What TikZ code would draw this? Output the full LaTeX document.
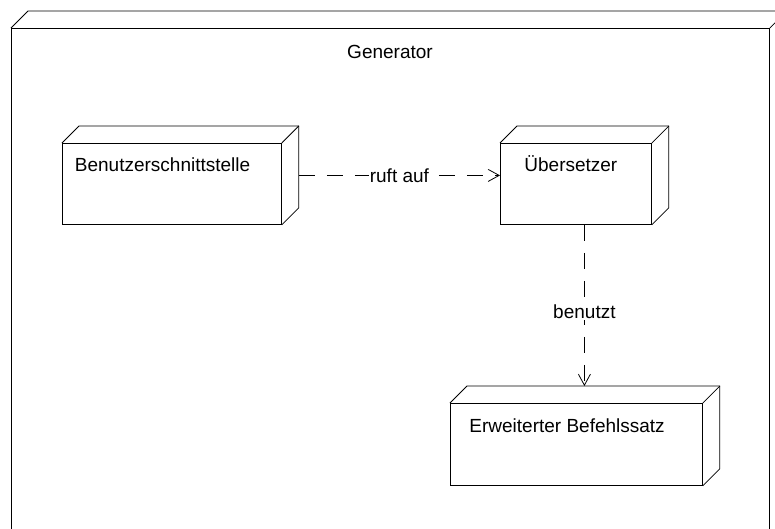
\documentclass[tikz,border=0pt]{standalone}
\usepackage{fontspec}
\setmainfont{Liberation Sans}
\usetikzlibrary{arrows.meta}
\begin{document}
\begin{tikzpicture}[x=1pt,y=-1pt,line width=0.8pt,
    box/.style={draw,rectangle,anchor=north west,inner sep=0pt},
    lbl/.style={font=\fontsize{19}{22}\selectfont,inner sep=0pt},
    dep/.style={draw,dash pattern=on 16pt off 12pt,-{Straight Barb[length=11pt,width=12pt]}}]
    \clip (0,0) rectangle (775,528);
    \node[box,minimum width=758pt,minimum height=540pt] (gen) at (11,28) {};
    \node[box,minimum width=219pt,minimum height=81pt] (ui) at (62,143) {};
    \node[box,minimum width=151pt,minimum height=81pt] (tr) at (500,143) {};
    \node[box,minimum width=252pt,minimum height=82pt] (ext) at (450,403) {};
    \foreach \n in {gen,ui,tr,ext}{
        \draw (\n.north west) -- ++(17,-17) -| ([shift={(17,-17)}]\n.south east) -- (\n.south east);
        \draw (\n.north east) -- ++(17,-17);
    }
    \node[lbl,anchor=base] (genT) at (390,58) {Generator};
    \node[lbl,anchor=base west] (uiT) at ([shift={(12.5,28)}]ui.north west) {Benutzerschnittstelle};
    \node[lbl,anchor=base west] (trT) at ([shift={(24,28)}]tr.north west) {Übersetzer};
    \node[lbl,anchor=base west] (extT) at ([shift={(19,29)}]ext.north west) {Erweiterter Befehlssatz};
    \path (ui.east) ++(17,-8.5) coordinate (a);
    \path (tr.west) ++(0,-8.5) coordinate (b);
    \path (tr.south) ++(8.5,0) coordinate (c);
    \path (c |- ext.north) ++(0,-17) coordinate (d);
    \draw[dep] (a) -- node[lbl,fill=white,inner xsep=1pt] (call) {ruft auf} (b);
    \draw[dep] (c) -- node[lbl,fill=white,inner ysep=1pt,pos=0.54] (use) {benutzt} (d);
\end{tikzpicture}
\end{document}
